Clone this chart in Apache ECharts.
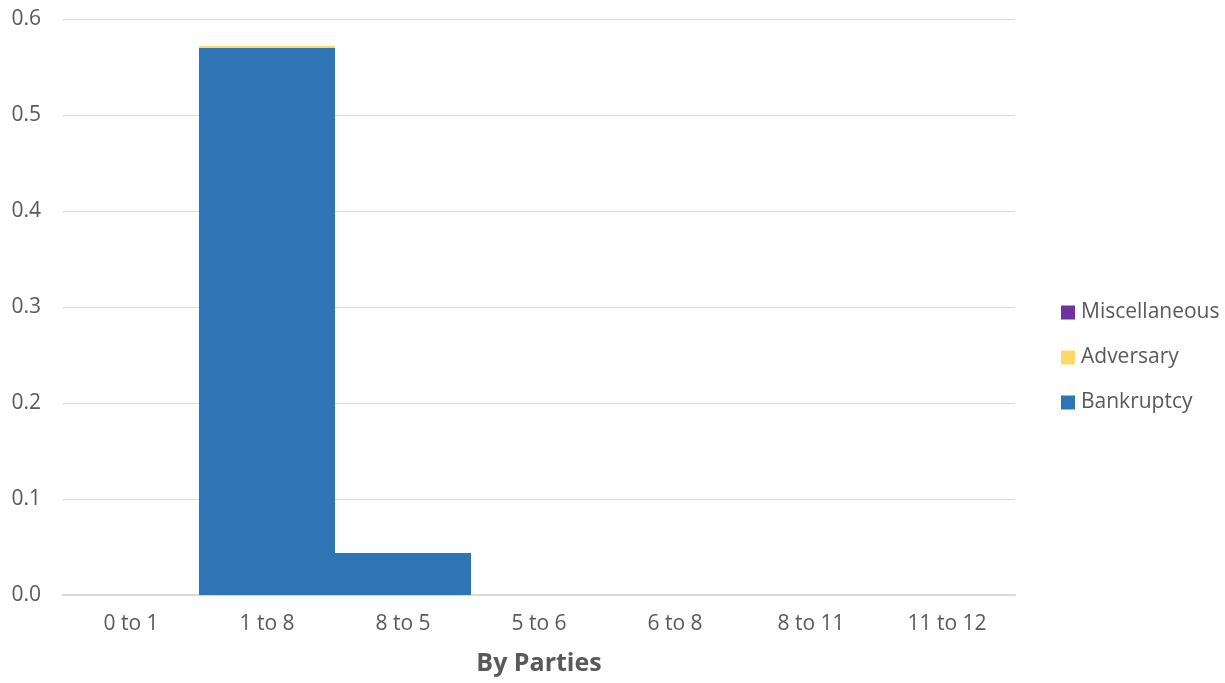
<!DOCTYPE html>
<html><head><meta charset="utf-8">
<script src="https://cdn.jsdelivr.net/npm/echarts@6/dist/echarts.min.js"></script>
<style>html,body{margin:0;padding:0;background:#fff}#c{width:1225px;height:683px}</style>
</head><body><div id="c"></div>
<script>
const categories = ['0 to 1','1 to 8','8 to 5','5 to 6','6 to 8','8 to 11','11 to 12'];
const bankruptcy = [0, 0.5697, 0.0438, 0, 0, 0, 0];
const adversary = [0, 0.0021, 0, 0, 0, 0, 0];
const miscellaneous = [0, 0, 0, 0, 0, 0, 0];
const yTicks = [0, 0.1, 0.2, 0.3, 0.4, 0.5, 0.6];

const font = 'Open Sans, Noto Sans, sans-serif';
const chart = echarts.init(document.getElementById('c'), null, {renderer:'canvas'});
chart.setOption({
  animation:false,
  grid:{left:63,right:210,top:19,bottom:88,containLabel:false},
  legend:{
    data:['Miscellaneous','Adversary','Bankruptcy'],
    orient:'vertical', left:1056, top:297,
    itemWidth:14,itemHeight:14,itemGap:24,icon:'rect',
    textStyle:{color:'#595959',fontSize:21,fontFamily:font,padding:[0,0,0,1]}
  },
  xAxis:{
    type:'category',data:categories,
    name:'By Parties',nameLocation:'middle',nameGap:56,
    nameTextStyle:{fontSize:25,fontWeight:'bold',color:'#595959',fontFamily:font},
    axisLine:{lineStyle:{color:'#d9d9d9',width:2}},
    axisTick:{show:false},
    axisLabel:{color:'#595959',fontSize:21,fontFamily:font,margin:19}
  },
  yAxis:{
    type:'value',min:0,max:0.6,interval:0.1,
    axisLine:{show:false},axisTick:{show:false},
    splitLine:{lineStyle:{color:'#d9d9d9',width:1}},
    axisLabel:{color:'#595959',fontSize:21,fontFamily:font,margin:22,
      formatter:v=>{const t=yTicks.find(x=>Math.abs(x-v)<1e-9);return (t!==undefined?t:v).toFixed(1);}}
  },
  series:[
    {name:'Bankruptcy',type:'bar',stack:'s',data:bankruptcy,barCategoryGap:'0%',itemStyle:{color:'#2E75B6'}},
    {name:'Adversary',type:'bar',stack:'s',data:adversary,barCategoryGap:'0%',itemStyle:{color:'#FFD966'}},
    {name:'Miscellaneous',type:'bar',stack:'s',data:miscellaneous,barCategoryGap:'0%',itemStyle:{color:'#7030A0'}}
  ]
});
</script></body></html>
